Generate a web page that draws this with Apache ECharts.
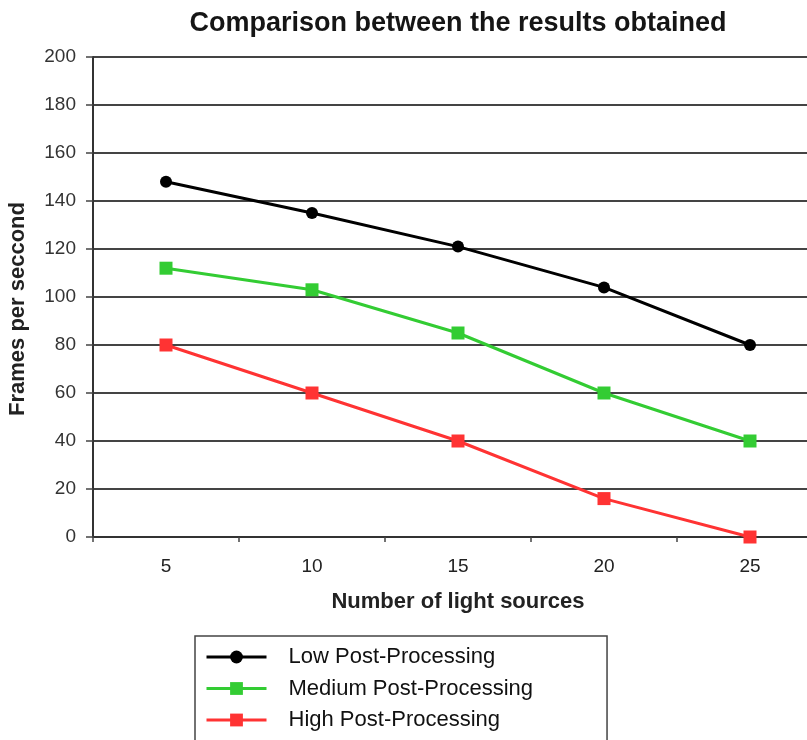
<!DOCTYPE html>
<html>
<head>
<meta charset="utf-8">
<script src="https://cdn.jsdelivr.net/npm/echarts@6/dist/echarts.min.js"></script>
<style>
  html, body { margin: 0; padding: 0; background: #fff; }
  #chart { width: 807px; height: 740px; }
</style>
</head>
<body>
<div id="chart"></div>
<script>
// Number of light sources in the scene
const lightSources = ['5', '10', '15', '20', '25'];

// Frames per second for each post-processing level
const lowPost = [148, 135, 121, 104, 80];
const mediumPost = [112, 103, 85, 60, 40];
const highPost = [80, 60, 40, 16, 0];

const seriesNames = ['Low Post-Processing', 'Medium Post-Processing', 'High Post-Processing'];
const yTicks = { min: 0, max: 200, interval: 20 };

const chart = echarts.init(document.getElementById('chart'));

const font = 'Liberation Sans, Arial, sans-serif';

function lineSeries(name, data, color, symbol, size) {
  return {
    name: name,
    type: 'line',
    data: data,
    symbol: symbol,
    symbolSize: size,
    showAllSymbol: true,
    lineStyle: { color: color, width: 3 },
    itemStyle: { color: color },
    emphasis: { disabled: true },
    z: 3
  };
}

chart.setOption({
  animation: false,
  backgroundColor: '#ffffff',
  title: {
    text: 'Comparison between the results obtained',
    left: 453,
    textAlign: 'center',
    top: 5,
    textStyle: { fontFamily: font, fontSize: 27, fontWeight: 'bold', color: '#151515' }
  },
  grid: { left: 93, top: 57, width: 730, height: 480, outerBoundsMode: 'none' },
  xAxis: {
    type: 'category',
    data: lightSources,
    boundaryGap: true,
    name: 'Number of light sources',
    nameLocation: 'middle',
    nameGap: 54,
    nameTextStyle: { fontFamily: font, fontSize: 22, fontWeight: 'bold', color: '#222' },
    axisLine: { lineStyle: { color: '#333', width: 2 } },
    axisTick: { show: true, alignWithLabel: false, length: 5, lineStyle: { color: '#444', width: 1.5 } },
    axisLabel: { fontFamily: font, fontSize: 19, color: '#222', margin: 20 },
    splitLine: { show: false }
  },
  yAxis: {
    type: 'value',
    min: yTicks.min,
    max: yTicks.max,
    interval: yTicks.interval,
    name: 'Frames per seccond',
    nameLocation: 'middle',
    nameGap: 64,
    nameTextStyle: { fontFamily: font, fontSize: 22, fontWeight: 'bold', color: '#222', padding: [0, 24, 0, 0] },
    axisLine: { show: true, lineStyle: { color: '#333', width: 2 } },
    axisTick: { show: true, length: 7, lineStyle: { color: '#444', width: 1.5 } },
    axisLabel: { fontFamily: font, fontSize: 19, color: '#333', margin: 17 },
    splitLine: { show: true, lineStyle: { color: '#444', width: 2 } }
  },
  legend: {
    orient: 'vertical',
    left: 195,
    top: 636,
    height: 200,
    data: seriesNames,
    itemWidth: 60,
    itemHeight: 16,
    itemGap: 9.5,
    padding: [10, 74, 14, 10],
    borderColor: '#444',
    borderWidth: 1.5,
    backgroundColor: '#fff',
    lineStyle: { width: 3 },
    textStyle: { fontFamily: font, fontSize: 22, color: '#111', padding: [0, 0, 0, 17] }
  },
  series: [
    lineSeries(seriesNames[0], lowPost, '#000000', 'circle', 12),
    lineSeries(seriesNames[1], mediumPost, '#33cc33', 'rect', 13),
    lineSeries(seriesNames[2], highPost, '#ff3333', 'rect', 13)
  ]
});
</script>
</body>
</html>
